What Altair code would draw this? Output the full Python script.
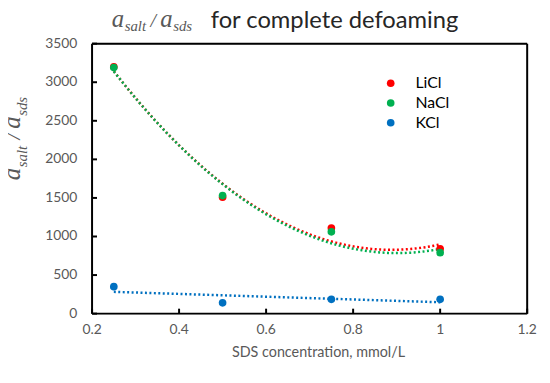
import altair as alt
import pandas as pd

# ---- data ----
sds = [0.25, 0.5, 0.75, 1.0]
licl = [3200, 1510, 1110, 840]
nacl = [3190, 1530, 1060, 790]
kcl = [350, 140, 185, 185]
salts = ["LiCl", "NaCl", "KCl"]
colors = ["#FF0000", "#00B050", "#0070C0"]
x_ticks = [0.2, 0.4, 0.6, 0.8, 1.0, 1.2]
x_labels = ["0.2", "0.4", "0.6", "0.8", "1", "1.2"]
y_ticks = [0, 500, 1000, 1500, 2000, 2500, 3000, 3500]
y_labels = ["0", "500", "1000", "1500", "2000", "2500", "3000", "3500"]

rows = []
for name, vals in zip(salts, [licl, nacl, kcl]):
    for xv, yv in zip(sds, vals):
        rows.append({"x": xv, "y": yv, "salt": name})
df = pd.DataFrame(rows)

W, H = 440, 273
xscale = alt.Scale(domain=[0.2, 1.2], nice=False, zero=False)
yscale = alt.Scale(domain=[0, 3500], nice=False)
cscale = alt.Scale(domain=salts, range=colors)
X = alt.X("x:Q", scale=xscale, axis=None)
Y = alt.Y("y:Q", scale=yscale, axis=None)

FONT = "Lato"
GRAY = "#595959"

base = alt.Chart(df)


def trend(name, color, **reg):
    return base.transform_filter(alt.datum.salt == name).transform_regression(
        "x", "y", **reg
    ).mark_line(strokeDash=[2, 2.5], strokeWidth=2.5, color=color).encode(x=X, y=Y)


t_li = trend("LiCl", colors[0], method="poly", order=2)
t_na = trend("NaCl", colors[1], method="poly", order=2)
t_k = trend("KCl", colors[2], method="linear")

points = base.transform_calculate(
    salt_order="indexof(['LiCl','NaCl','KCl'], datum.salt)"
).mark_point(filled=True, size=60, opacity=1, shape="circle").encode(
    x=X, y=Y,
    color=alt.Color("salt:N", scale=cscale, sort=salts,
                    legend=alt.Legend(title=None, orient="none", legendX=294, legendY=32,
                                      symbolType="circle", symbolSize=60, symbolStrokeWidth=0,
                                      symbolOpacity=1,
                                      labelFont=FONT, labelFontSize=16, labelColor="#000000",
                                      labelOffset=17, rowPadding=4, padding=0)),
    order=alt.Order("salt_order:Q"),
)

xdf = pd.DataFrame({"x": x_ticks, "lab": x_labels})
ydf = pd.DataFrame({"y": y_ticks, "lab": y_labels})

x_tick_marks = alt.Chart(xdf).mark_rule(color="black", strokeWidth=2).encode(
    x=X, y=alt.value(H - 5), y2=alt.value(H))
y_tick_marks = alt.Chart(ydf).mark_rule(color="black", strokeWidth=2).encode(
    y=Y, x=alt.value(0), x2=alt.value(5))
x_tick_labels = alt.Chart(xdf).mark_text(
    font=FONT, fontSize=14, color=GRAY, align="center", baseline="top"
).encode(x=X, y=alt.value(H + 10), text="lab:N")
y_tick_labels = alt.Chart(ydf).mark_text(
    font=FONT, fontSize=14, color=GRAY, align="right", baseline="middle"
).encode(y=Y, x=alt.value(-15), text="lab:N")

one = pd.DataFrame({"k": [0]})
frame = [
    alt.Chart(one).mark_rule(color="black", strokeWidth=2).encode(
        x=alt.value(0), x2=alt.value(W), y=alt.value(0)),
    alt.Chart(one).mark_rule(color="black", strokeWidth=2).encode(
        x=alt.value(0), x2=alt.value(W), y=alt.value(H)),
    alt.Chart(one).mark_rule(color="black", strokeWidth=2).encode(
        x=alt.value(0), y=alt.value(0), y2=alt.value(H)),
    alt.Chart(one).mark_rule(color="black", strokeWidth=2).encode(
        x=alt.value(W), y=alt.value(0), y2=alt.value(H)),
]


def txt(s, x, y, size, font, italic=False, color=GRAY, angle=0):
    kw = dict(text=s, fontSize=size, font=font, align="left", baseline="alphabetic", color=color)
    if italic:
        kw["fontStyle"] = "italic"
    if angle:
        kw["angle"] = angle
    return alt.Chart(one).mark_text(**kw).encode(x=alt.value(x), y=alt.value(y))


SERIF = "Liberation Serif"
text_layers = [
    txt("a", 20, -17, 25, SERIF, True),
    txt("salt", 33, -13, 15, SERIF, True),
    txt("/", 59, -17, 20, SERIF, True),
    txt("a", 69, -17, 25, SERIF, True),
    txt("sds", 82, -13, 15, SERIF, True),
    txt("for complete defoaming", 120, -16, 24, FONT, False, "#262626"),
    # rotated y-axis title
    txt("a", -73, 138, 25, SERIF, True, GRAY, 270),
    txt("salt", -66, 125, 15, SERIF, True, GRAY, 270),
    txt("/", -73, 97, 20, SERIF, True, GRAY, 270),
    txt("a", -73, 86, 25, SERIF, True, GRAY, 270),
    txt("sds", -66, 73, 15, SERIF, True, GRAY, 270),
]
x_title = alt.Chart(one).mark_text(
    text="SDS concentration, mmol/L", font=FONT, fontSize=14.5, color=GRAY,
    align="center", baseline="middle"
).encode(x=alt.value(W / 2 + 9), y=alt.value(H + 40))

chart = alt.layer(
    t_li, t_na, t_k, points, x_tick_marks, y_tick_marks, x_tick_labels, y_tick_labels,
    *frame, *text_layers, x_title
).properties(
    width=W, height=H,
    autosize=alt.AutoSizeParams(type="none"),
    padding={"left": 85, "top": 34, "right": 15, "bottom": 60},
).configure_view(stroke=None).configure(background="white")

chart.save("out.html", embed_options={"renderer": "svg", "actions": False})
